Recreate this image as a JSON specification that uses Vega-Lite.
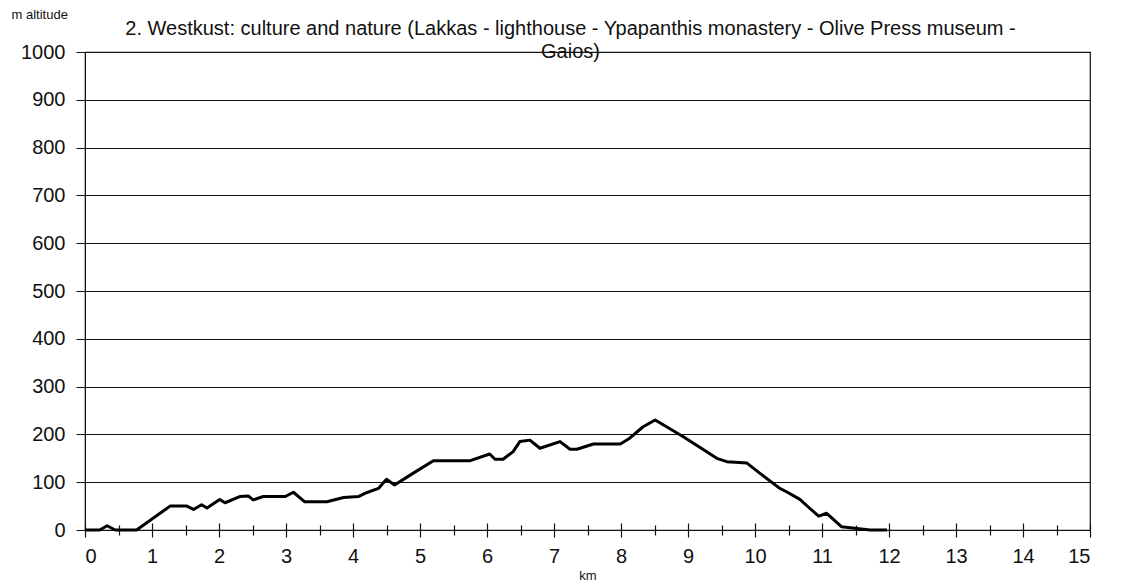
{
  "$schema": "https://vega.github.io/schema/vega-lite/v6.json",
  "autosize": {"type": "none"},
  "padding": {"left": 85, "top": 52, "right": 40, "bottom": 55},
  "width": 1005,
  "height": 478,
  "background": "white",
  "config": {
    "font": "Liberation Sans",
    "view": {"stroke": "#111", "strokeWidth": 1.2},
    "axis": {"labelFont": "Liberation Sans", "titleFont": "Liberation Sans", "labelColor": "#111", "titleColor": "#111", "domainColor": "#111", "tickColor": "#111", "gridColor": "#111"}
  },
  "title": {
    "text": ["2. Westkust: culture and nature (Lakkas - lighthouse - Ypapanthis monastery - Olive Press museum -", "Gaios)"],
    "fontSize": 20,
    "fontWeight": "normal",
    "lineHeight": 23,
    "color": "#111",
    "anchor": "middle",
    "frame": "group",
    "baseline": "bottom",
    "offset": 0,
    "dx": -17,
    "dy": 74
  },
  "data": {"values": [
    {"km": 0, "alt": 0}, {"km": 0.22, "alt": 0}, {"km": 0.33, "alt": 9}, {"km": 0.45, "alt": 0},
    {"km": 0.77, "alt": 0}, {"km": 1.27, "alt": 50}, {"km": 1.52, "alt": 50}, {"km": 1.62, "alt": 43},
    {"km": 1.74, "alt": 53}, {"km": 1.82, "alt": 46}, {"km": 2.01, "alt": 64}, {"km": 2.09, "alt": 57},
    {"km": 2.31, "alt": 70}, {"km": 2.44, "alt": 71}, {"km": 2.51, "alt": 63}, {"km": 2.66, "alt": 70},
    {"km": 2.99, "alt": 70}, {"km": 3.11, "alt": 79}, {"km": 3.28, "alt": 59}, {"km": 3.61, "alt": 59},
    {"km": 3.86, "alt": 68}, {"km": 4.08, "alt": 70}, {"km": 4.2, "alt": 78}, {"km": 4.38, "alt": 87},
    {"km": 4.5, "alt": 106}, {"km": 4.62, "alt": 94}, {"km": 4.9, "alt": 119}, {"km": 5.2, "alt": 145},
    {"km": 5.75, "alt": 145}, {"km": 6.04, "alt": 159}, {"km": 6.12, "alt": 148}, {"km": 6.24, "alt": 148},
    {"km": 6.39, "alt": 164}, {"km": 6.49, "alt": 185}, {"km": 6.64, "alt": 188}, {"km": 6.79, "alt": 171},
    {"km": 7.09, "alt": 185}, {"km": 7.24, "alt": 169}, {"km": 7.34, "alt": 169}, {"km": 7.59, "alt": 180},
    {"km": 7.99, "alt": 180}, {"km": 8.13, "alt": 192}, {"km": 8.33, "alt": 216}, {"km": 8.51, "alt": 230},
    {"km": 8.93, "alt": 195}, {"km": 9.43, "alt": 150}, {"km": 9.58, "alt": 143}, {"km": 9.88, "alt": 140},
    {"km": 10.07, "alt": 119}, {"km": 10.37, "alt": 87}, {"km": 10.47, "alt": 80}, {"km": 10.67, "alt": 64},
    {"km": 10.82, "alt": 45}, {"km": 10.95, "alt": 29}, {"km": 11.07, "alt": 35}, {"km": 11.29, "alt": 7},
    {"km": 11.52, "alt": 3}, {"km": 11.72, "alt": 0}, {"km": 11.97, "alt": 0}
  ]},
  "encoding": {
    "y": {
      "field": "alt", "type": "quantitative",
      "scale": {"domain": [0, 1000], "nice": false},
      "axis": {
        "values": [0, 100, 200, 300, 400, 500, 600, 700, 800, 900, 1000], "format": "d",
        "title": "m altitude", "titleAngle": 0, "titleFontSize": 13, "titleFontWeight": "normal",
        "titleAlign": "left", "titleBaseline": "top", "titleX": -74, "titleY": -44,
        "labelFontSize": 20, "labelPadding": 11, "tickSize": 9, "grid": true, "gridWidth": 1.2, "gridOpacity": 1
      }
    }
  },
  "layer": [
    {
      "mark": {"type": "line", "color": "#000", "strokeWidth": 3, "strokeJoin": "round"},
      "encoding": {
        "x": {
          "field": "km", "type": "quantitative",
          "scale": {"domain": [0, 15], "nice": false},
          "axis": {
            "orient": "bottom", "values": [0,1,2,3,4,5,6,7,8,9,10,11,12,13,14,15],
            "title": "km", "titleFontSize": 13, "titleFontWeight": "normal", "titlePadding": 3,
            "labelFontSize": 20, "ticks": false, "tickSize": 0, "labelPadding": 16, "grid": false,
            "domainWidth": 1.2
          }
        }
      }
    },
    {
      "mark": {"type": "line", "opacity": 0},
      "encoding": {
        "x": {
          "field": "km", "type": "quantitative",
          "axis": {
            "orient": "bottom", "values": [0,1,2,3,4,5,6,7,8,9,10,11,12,13,14,15],
            "title": null, "labels": false, "domain": false, "tickSize": 14, "offset": -7, "grid": false, "tickWidth": 1.2
          }
        }
      }
    },
    {
      "mark": {"type": "line", "opacity": 0},
      "encoding": {
        "x": {
          "field": "km", "type": "quantitative",
          "axis": {
            "orient": "bottom", "values": [0.5,1.5,2.5,3.5,4.5,5.5,6.5,7.5,8.5,9.5,10.5,11.5,12.5,13.5,14.5],
            "title": null, "labels": false, "domain": false, "tickSize": 10, "offset": -5, "grid": false, "tickWidth": 1.2
          }
        }
      }
    }
  ],
  "resolve": {"axis": {"x": "independent"}}
}
